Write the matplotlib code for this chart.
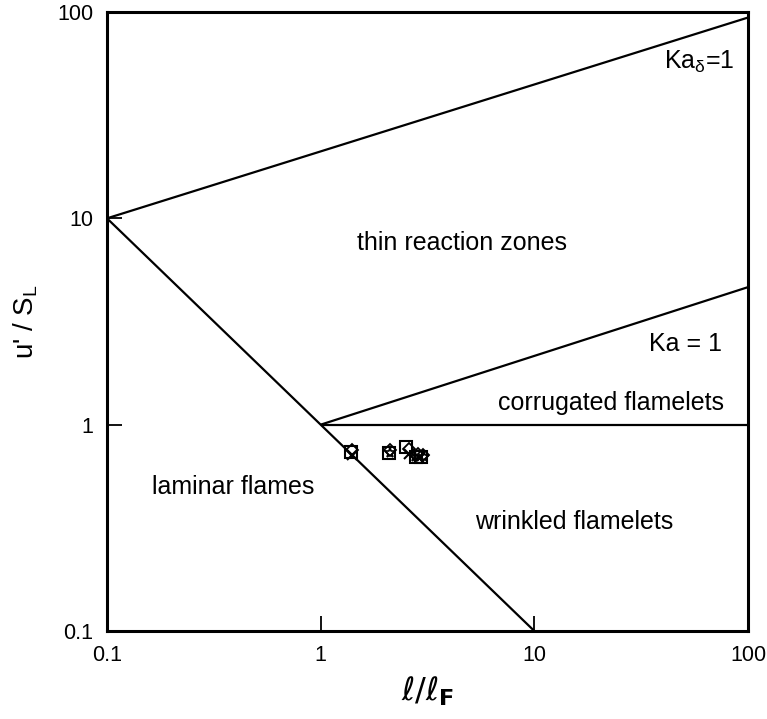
import matplotlib
matplotlib.use("Agg")
import matplotlib.pyplot as plt

plt.rcParams['font.family'] = ['Liberation Sans', 'DejaVu Sans']
plt.rcParams['mathtext.fontset'] = 'dejavusans'

# Regime boundaries (l/lF, u'/SL)
ka_delta_x = [0.1, 100]
ka_delta_y = [10, 94]
laminar_x = [0.1, 10]
laminar_y = [10, 0.1]
ka_one_x = [1, 100]
ka_one_y = [1, 4.64]
unity_x = [1, 100]
unity_y = [1, 1]

# Measured operating points
square_x = [1.38, 2.08, 2.52, 2.80, 2.95]
square_y = [0.74, 0.73, 0.78, 0.70, 0.70]
diamond_x = [1.40, 2.10, 2.58, 2.85, 3.00]
diamond_y = [0.75, 0.75, 0.76, 0.72, 0.71]
cross_x = [1.40, 2.60, 2.90]
cross_y = [0.71, 0.72, 0.69]
star_x = [2.10, 2.75, 3.05]
star_y = [0.73, 0.70, 0.70]

tick_vals = [0.1, 1, 10, 100]
tick_labels = ['0.1', '1', '10', '100']

fig = plt.figure(figsize=(7.67, 7.19), dpi=100)
ax = fig.add_axes([107/767, 1 - 631/719, 641/767, 619/719])

for xs, ys in [(ka_delta_x, ka_delta_y), (laminar_x, laminar_y),
               (ka_one_x, ka_one_y), (unity_x, unity_y)]:
    ax.plot(xs, ys, color='black', lw=1.6, solid_capstyle='butt')

ms = 8
ax.plot(square_x, square_y, 's', ms=ms, mfc='none', mec='black', mew=1.5)
ax.plot(diamond_x, diamond_y, 'D', ms=ms * 0.8, mfc='none', mec='black', mew=1.3)
ax.plot(cross_x, cross_y, 'x', ms=ms * 0.9, color='black', mew=1.5)
ax.plot(star_x, star_y, '*', ms=ms, mfc='none', mec='black', mew=1.2)

ax.set_xscale('log')
ax.set_yscale('log')
ax.set_xlim(0.1, 100)
ax.set_ylim(0.1, 100)
ax.set_xticks(tick_vals)
ax.set_xticklabels(tick_labels)
ax.set_yticks(tick_vals)
ax.set_yticklabels(tick_labels)
ax.minorticks_off()
ax.tick_params(which='major', direction='in', length=11, width=1.3,
               labelsize=15.5, pad=10, top=False, right=False)
for sp in ax.spines.values():
    sp.set_linewidth(2.2)

fs = 18
ax.text(59, 57, r'Ka$_\mathregular{δ}$=1', fontsize=fs, ha='center', va='center')
ax.text(4.6, 7.6, 'thin reaction zones', fontsize=fs, ha='center', va='center')
ax.text(51, 2.47, 'Ka = 1', fontsize=fs, ha='center', va='center')
ax.text(22.8, 1.28, 'corrugated flamelets', fontsize=fs, ha='center', va='center')
ax.text(0.39, 0.5, 'laminar flames', fontsize=fs, ha='center', va='center')
ax.text(15.3, 0.338, 'wrinkled flamelets', fontsize=fs, ha='center', va='center')

ax.set_xlabel(r'$\ell/\ell_{\mathbf{F}}$', fontsize=23, labelpad=6)
ax.set_ylabel(r"u' / S$_\mathregular{L}$", fontsize=20, labelpad=12)

fig.savefig('out.png', dpi=100)
